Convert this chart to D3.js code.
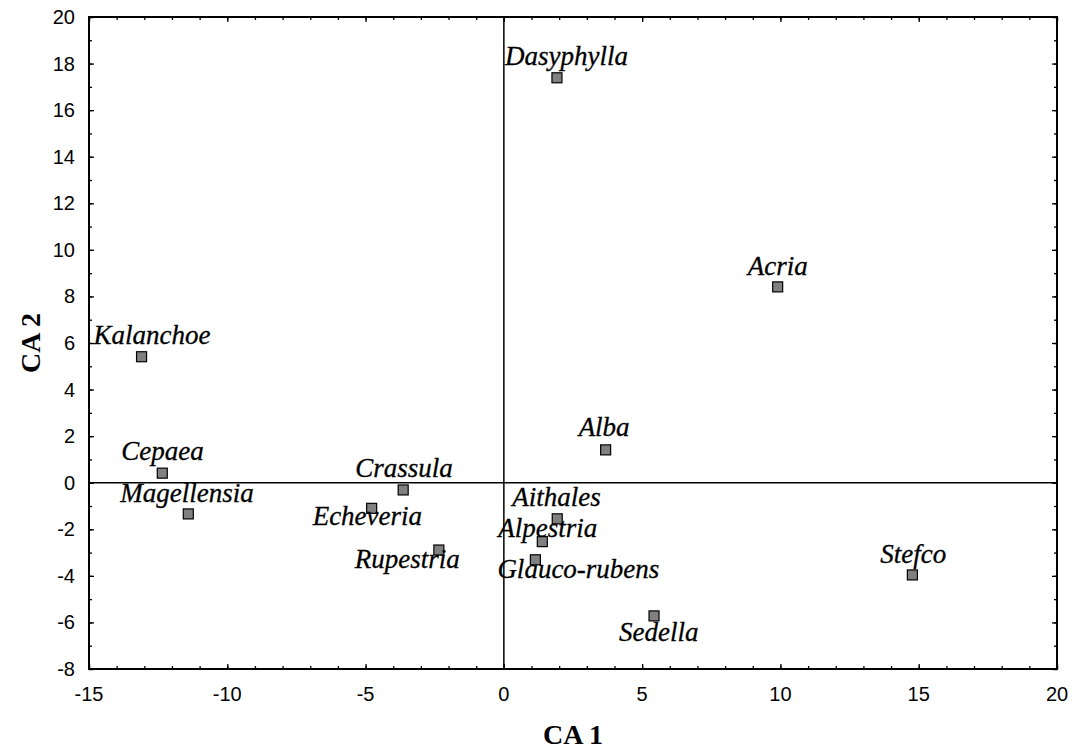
<!DOCTYPE html>
<head>
  <meta charset="utf-8">
  <title>CA plot</title>
  <script src="https://d3js.org/d3.v7.min.js"></script>
  <style>
    body { margin: 0; background: #fff; }
  </style>
</head>
<body>
<svg width="1073" height="749"></svg>

<script type="text/javascript">

// species scores on the first two CA axes
var names = ["Dasyphylla", "Acria", "Kalanchoe", "Alba", "Cepaea", "Crassula", "Magellensia",
             "Echeveria", "Aithales", "Alpestria", "Rupestria", "Glauco-rubens", "Stefco", "Sedella"];
var ca1 = [1.92, 9.9, -13.1, 3.68, -12.35, -3.64, -11.41, -4.78, 1.93, 1.39, -2.35, 1.14, 14.77, 5.43];
var ca2 = [17.39, 8.41, 5.41, 1.41, 0.41, -0.31, -1.34, -1.1, -1.55, -2.53, -2.89, -3.31, -3.96, -5.72];

var xTicks = [-15, -10, -5, 0, 5, 10, 15, 20];
var yTicks = [-8, -6, -4, -2, 0, 2, 4, 6, 8, 10, 12, 14, 16, 18, 20];

// where each label sits relative to its marker (text start, baseline)
var labelDx = [-52, -30, -48, -27, -41, -48, -68, -59, -45, -44, -84, -38, -32, -35];
var labelDy = [-13, -12, -13, -14, -13, -13, -12, 17, -13, -5, 18, 18, -12, 25];

var svg = d3.select("svg");
var pLeft = 89, pRight = 1057, pTop = 17, pBottom = 669;

var x = d3.scaleLinear().domain([-15, 20]).range([pLeft, pRight]);
var y = d3.scaleLinear().domain([-8, 20]).range([pBottom, pTop]);

// inward ticks: minor every unit, major on the labelled values
function ticks(axis, scale, values, len, tx, ty) {
  var g = svg.append("g").attr("transform", "translate(" + tx + "," + ty + ")");
  g.call(axis(scale).tickValues(values).tickSize(len).tickFormat(""));
  g.select(".domain").remove();
  g.selectAll("line").attr("stroke", "#000").attr("stroke-width", 1.3);
  return g;
}

var minorX = d3.range(-15, 21, 1);
var minorY = d3.range(-8, 21, 1);

ticks(d3.axisTop, x, minorX, 3, 0, pBottom);
ticks(d3.axisTop, x, xTicks, 5, 0, pBottom);
ticks(d3.axisBottom, x, minorX, 3, 0, pTop);
ticks(d3.axisBottom, x, xTicks, 5, 0, pTop);
ticks(d3.axisRight, y, minorY, 3, pLeft, 0);
ticks(d3.axisRight, y, yTicks, 5, pLeft, 0);
ticks(d3.axisLeft, y, minorY, 3, pRight, 0);
ticks(d3.axisLeft, y, yTicks, 5, pRight, 0);

// tick labels
svg.append("g").selectAll("text")
  .data(xTicks)
  .enter().append("text")
    .attr("x", function(d) { return x(d); })
    .attr("y", pBottom + 32)
    .attr("text-anchor", "middle")
    .style("font-family", "'Liberation Sans', Arial, sans-serif")
    .style("font-size", "20px")
    .text(function(d) { return d; });

svg.append("g").selectAll("text")
  .data(yTicks)
  .enter().append("text")
    .attr("x", pLeft - 14)
    .attr("y", function(d) { return y(d) + 7; })
    .attr("text-anchor", "end")
    .style("font-family", "'Liberation Sans', Arial, sans-serif")
    .style("font-size", "20px")
    .text(function(d) { return d; });

// zero lines
svg.append("line")
  .attr("x1", x(0)).attr("x2", x(0)).attr("y1", pTop).attr("y2", pBottom)
  .attr("stroke", "#000").attr("stroke-width", 1.5);
svg.append("line")
  .attr("x1", pLeft).attr("x2", pRight).attr("y1", y(0)).attr("y2", y(0))
  .attr("stroke", "#000").attr("stroke-width", 1.5);

// frame
svg.append("rect")
  .attr("x", pLeft).attr("y", pTop)
  .attr("width", pRight - pLeft).attr("height", pBottom - pTop)
  .attr("fill", "none").attr("stroke", "#000").attr("stroke-width", 2);

// points
var idx = d3.range(names.length);
svg.append("g").selectAll("rect")
  .data(idx)
  .enter().append("rect")
    .attr("x", function(i) { return x(ca1[i]) - 5; })
    .attr("y", function(i) { return y(ca2[i]) - 5; })
    .attr("width", 10)
    .attr("height", 10)
    .attr("fill", "#808080")
    .attr("stroke", "#000")
    .attr("stroke-width", 1.2);

svg.append("g").selectAll("text")
  .data(idx)
  .enter().append("text")
    .attr("x", function(i) { return x(ca1[i]) + labelDx[i]; })
    .attr("y", function(i) { return y(ca2[i]) + labelDy[i]; })
    .style("font-family", "'Liberation Serif', 'Times New Roman', serif")
    .style("font-style", "italic")
    .style("font-size", "27px")
    .style("stroke", "#000")
    .style("stroke-width", 0.3)
    .text(function(i) { return names[i]; });

// axis titles
svg.append("text")
  .attr("x", (pLeft + pRight) / 2)
  .attr("y", 744)
  .attr("text-anchor", "middle")
  .style("font-family", "'Liberation Serif', 'Times New Roman', serif")
  .style("font-weight", "bold")
  .style("font-size", "28px")
  .text("CA 1");

svg.append("text")
  .attr("transform", "translate(40," + (pTop + pBottom) / 2 + ") rotate(-90)")
  .attr("text-anchor", "middle")
  .style("font-family", "'Liberation Serif', 'Times New Roman', serif")
  .style("font-weight", "bold")
  .style("font-size", "28px")
  .text("CA 2");

</script>
</body>
</html>
